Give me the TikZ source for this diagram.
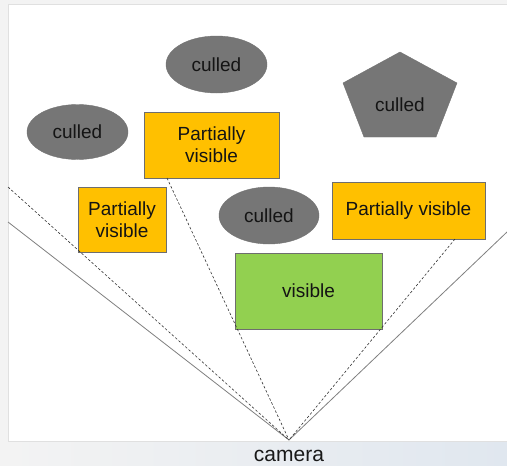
\documentclass[tikz,border=0pt]{standalone}
\usepackage{fontspec}
\setmainfont{Liberation Sans}
\usetikzlibrary{shapes.geometric}
\definecolor{partcol}{HTML}{FFC000}
\definecolor{viscol}{HTML}{92D050}
\definecolor{cullcol}{HTML}{767676}
\definecolor{edgecol}{HTML}{6E6E6E}
\definecolor{outercol}{HTML}{F3F3F3}
\definecolor{stripcol}{HTML}{E0E7EF}
\begin{document}
\begin{tikzpicture}[x=1pt,y=-1pt]
        \tikzset{partbox/.style={draw=edgecol,fill=partcol,rectangle,inner sep=0pt,align=center,text=black!92},
    visbox/.style={draw=edgecol,fill=viscol,rectangle,inner sep=0pt,text=black!92},
    cullell/.style={draw=black!55,fill=cullcol,ellipse,inner sep=0pt,text=black!92},
    fovline/.style={draw=black!50,line width=0.8pt},
    cutline/.style={draw=black!80,dashed,dash pattern=on 2.5pt off 2pt,line width=0.6pt}}
        \useasboundingbox (0,0) rectangle (507,466);
        \fill[outercol] (0,0) rectangle (507,466);
        \shade[left color=outercol,right color=stripcol] (8,441) rectangle (507,466);
        \draw[fill=white,draw=black!12] (8,4) rectangle (510,441);
        \fontsize{19}{22}\selectfont
        \coordinate (cam) at (289,440);
        \coordinate (fovL) at (8,222);
        \coordinate (fovR) at (507,232);
        \coordinate (cutL) at (8,187);
        \coordinate (cutM) at (167,178);
        \coordinate (cutR) at (455,239);
        \node (pt) at (211.5,145) [partbox,minimum width=135,minimum height=66] {Partially\\visible};
        \node (pl) at (122,219.5) [partbox,minimum width=88,minimum height=65] {Partially\\visible};
        \node (pr) at (408.5,210.5) [partbox,minimum width=153,minimum height=57] {Partially visible};
        \node (vis) at (308.5,291) [visbox,minimum width=147,minimum height=76] {visible};
        \node (ct) at (216.5,64.5) [cullell,minimum width=101,minimum height=57] {culled};
        \node (cl) at (77.5,132) [cullell,minimum width=101,minimum height=55] {culled};
        \node (cm) at (269,215.5) [cullell,minimum width=100,minimum height=57] {culled};
        \draw[draw=black!55,fill=cullcol] (400,52) -- (457,83) -- (436,137) -- (364,137) -- (343,83) -- cycle;
        \node (cp) at (400,105) [text=black!92] {culled};
        \draw [fovline] (fovL) -- (cam);
        \draw [fovline] (fovR) -- (cam);
        \draw [cutline] (cutL) -- (cam);
        \draw [cutline] (cutM) -- (cam);
        \draw [cutline] (cutR) -- (cam);
        \node (camlbl) at (289,456) [font=\fontsize{21}{24}\selectfont,text=black!90] {camera};
    \end{tikzpicture}
\end{document}
